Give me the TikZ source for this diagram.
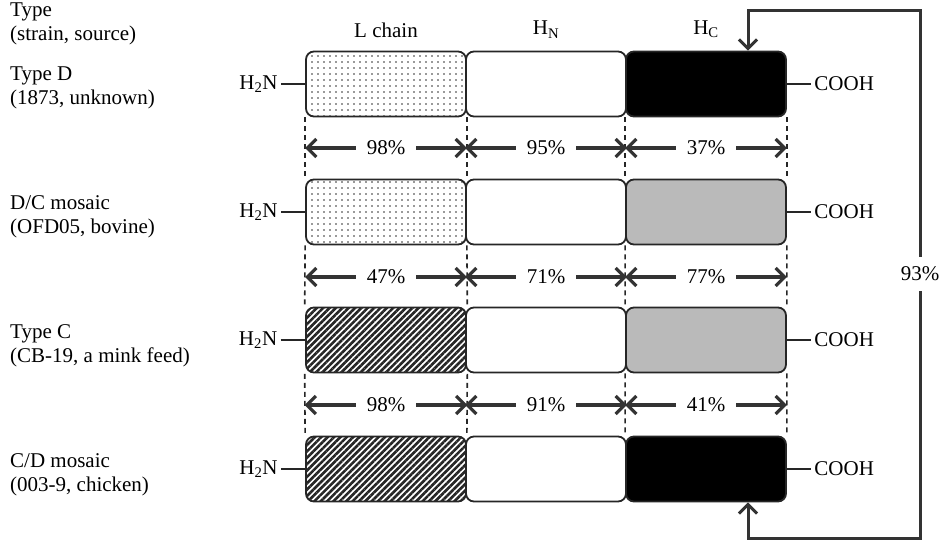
\documentclass[tikz,border=0pt]{standalone}
\usepackage{fontspec}
\setmainfont{Liberation Serif}
\usetikzlibrary{arrows.meta,patterns.meta,positioning}

\begin{document}
\begin{tikzpicture}[
    x=1pt, y=-1pt,
    font=\fontsize{21}{24}\selectfont,
    % --- STYLES ---
    region/.style={
        rectangle, rounded corners=8pt,
        draw=black!85, line width=1.8pt,
        minimum width=160pt, minimum height=65pt,
        inner sep=0pt
    },
    lchainD/.style={pattern={Dots[distance=6pt, radius=0.9pt]}, pattern color=black!80},
    lchainC/.style={pattern={Lines[angle=45, distance=4.5pt, line width=2.6pt]}, pattern color=black!85},
    hcD/.style={fill=black},
    hcC/.style={fill=black!27},
    typetext/.style={anchor=west, align=left, inner sep=2pt},
    term/.style={line width=1.6pt, draw=black!85},
    guide/.style={line width=1.6pt, draw=black!85, dash pattern=on 5pt off 4pt},
    span/.style={<->, >={Straight Barb[length=9pt, width=18pt]}, line width=3.2pt, draw=black!80},
    pct/.style={fill=white, inner xsep=11pt, inner ysep=1pt},
    backarrow/.style={<->, >={Straight Barb[length=9pt, width=18pt]}, line width=3pt, draw=black!80}
]

\useasboundingbox (0,0) rectangle (941,542);

% ===== 1. COORDINATES =====
\def\xL{386}
\def\xN{546}
\def\xC{706}
\def\yD{84}
\def\yDC{212}
\def\yC{340}
\def\yCD{469}

% ===== 2. REGION BOXES =====
% Type D
\node[region, lchainD] (dL) at (\xL, \yD) {};
\node[region] (dN) at (\xN, \yD) {};
\node[region, hcD] (dC) at (\xC, \yD) {};

% D/C mosaic
\node[region, lchainD] (dcL) at (\xL, \yDC) {};
\node[region] (dcN) at (\xN, \yDC) {};
\node[region, hcC] (dcC) at (\xC, \yDC) {};

% Type C
\node[region, lchainC] (cL) at (\xL, \yC) {};
\node[region] (cN) at (\xN, \yC) {};
\node[region, hcC] (cC) at (\xC, \yC) {};

% C/D mosaic
\node[region, lchainC] (cdL) at (\xL, \yCD) {};
\node[region] (cdN) at (\xN, \yCD) {};
\node[region, hcD] (cdC) at (\xC, \yCD) {};

% ===== 3. HEADERS & TYPE LABELS =====
\node[above=9pt of dL] (hL) {L chain};
\node[above=9pt of dN] (hN) {H\textsubscript{N}};
\node[above=9pt of dC] (hC) {H\textsubscript{C}};

\node[typetext] (tHead) at (8, 24) {Type\\(strain, source)};
\node[typetext] (tD) at (8, 88) {Type D\\(1873, unknown)};
\node[typetext] (tDC) at (8, 217) {D/C mosaic\\(OFD05, bovine)};
\node[typetext] (tC) at (8, 346) {Type C\\(CB-19, a mink feed)};
\node[typetext] (tCD) at (8, 475) {C/D mosaic\\(003-9, chicken)};

% ===== 4. TERMINI =====
\node[anchor=east] (nD) at ([xshift=-24pt]dL.west) {H\textsubscript{2}N};
\node[anchor=east] (nDC) at ([xshift=-24pt]dcL.west) {H\textsubscript{2}N};
\node[anchor=east] (nC) at ([xshift=-24pt]cL.west) {H\textsubscript{2}N};
\node[anchor=east] (nCD) at ([xshift=-24pt]cdL.west) {H\textsubscript{2}N};

\node[anchor=west] (oD) at ([xshift=24pt]dC.east) {COOH};
\node[anchor=west] (oDC) at ([xshift=24pt]dcC.east) {COOH};
\node[anchor=west] (oC) at ([xshift=24pt]cC.east) {COOH};
\node[anchor=west] (oCD) at ([xshift=24pt]cdC.east) {COOH};

\draw[term] (nD.east) -- (dL.west);
\draw[term] (nDC.east) -- (dcL.west);
\draw[term] (nC.east) -- (cL.west);
\draw[term] (nCD.east) -- (cdL.west);
\draw[term] (dC.east) -- (oD.west);
\draw[term] (dcC.east) -- (oDC.west);
\draw[term] (cC.east) -- (oC.west);
\draw[term] (cdC.east) -- (oCD.west);

% ===== 5. DASHED GUIDES =====
\draw[guide] (dL.south west) -- (dcL.north west) (dL.south east) -- (dcL.north east)
    (dC.south west) -- (dcC.north west) (dC.south east) -- (dcC.north east);
\draw[guide] (dcL.south west) -- (cL.north west) (dcL.south east) -- (cL.north east)
    (dcC.south west) -- (cC.north west) (dcC.south east) -- (cC.north east);
\draw[guide] (cL.south west) -- (cdL.north west) (cL.south east) -- (cdL.north east)
    (cC.south west) -- (cdC.north west) (cC.south east) -- (cdC.north east);

% ===== 6. IDENTITY SPANS =====
\coordinate (r1) at (0, 148);
\coordinate (r2) at (0, 277);
\coordinate (r3) at (0, 405);

\draw[span] (dL.west |- r1) -- node[pct] {98\%} (dL.east |- r1);
\draw[span] (dN.west |- r1) -- node[pct] {95\%} (dN.east |- r1);
\draw[span] (dC.west |- r1) -- node[pct] {37\%} (dC.east |- r1);

\draw[span] (dcL.west |- r2) -- node[pct] {47\%} (dcL.east |- r2);
\draw[span] (dcN.west |- r2) -- node[pct] {71\%} (dcN.east |- r2);
\draw[span] (dcC.west |- r2) -- node[pct] {77\%} (dcC.east |- r2);

\draw[span] (cL.west |- r3) -- node[pct] {98\%} (cL.east |- r3);
\draw[span] (cN.west |- r3) -- node[pct] {91\%} (cN.east |- r3);
\draw[span] (cC.west |- r3) -- node[pct] {41\%} (cC.east |- r3);

% ===== 7. H_C COMPARISON (Type D vs C/D mosaic) =====
\coordinate (loopT) at (920, 10);
\coordinate (loopB) at (920, 538);
\draw[backarrow] ([xshift=42pt]dC.north) |- (loopT)
    -- node[pct, inner xsep=1pt, inner ysep=10pt] {93\%} (loopB)
    -| ([xshift=42pt]cdC.south);

\end{tikzpicture}
\end{document}
